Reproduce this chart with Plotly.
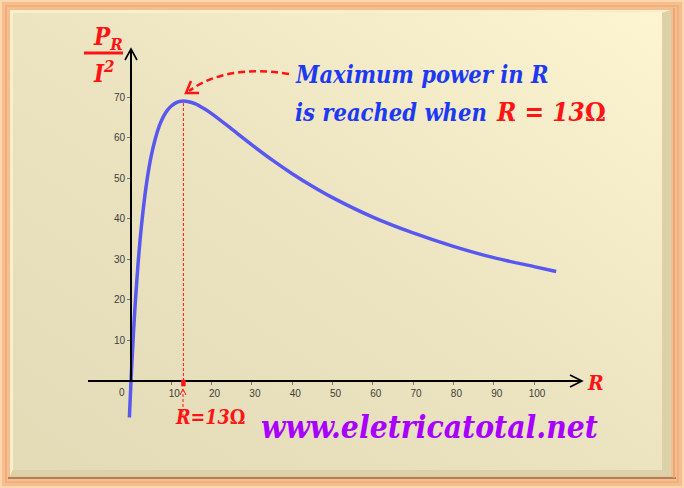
import base64
import plotly.graph_objects as go

# ---------------- data ----------------
R_VALUES = [-0.4, 0, 0.5, 1, 2, 3, 4, 5, 6, 7, 8, 9, 10, 11, 12, 13, 14, 16, 18, 20, 25, 30,
            35, 40, 45, 50, 60, 70, 80, 90, 100, 105.5]
P_VALUES = [-9.0, 0.0, 9.8, 18.3, 31.9, 42.0, 49.7, 55.4, 59.6, 62.8, 65.1, 66.7, 67.8, 68.5, 68.9,
            69.0, 68.9, 68.3, 67.2, 65.9, 62.1, 58.2, 54.5, 51.1, 48.0, 45.2, 40.4, 36.5, 33.2,
            30.4, 28.2, 27.0]
X_TICKS = [10, 20, 30, 40, 50, 60, 70, 80, 90, 100]
Y_TICKS = [10, 20, 30, 40, 50, 60, 70]
R_MAX = 13
P_MAX = 69.0

# ---------------- geometry helpers ----------------
W, H = 684, 488
X0PX, PXU = 131.0, 4.03      # pixel of R=0, pixels per unit R
Y0PX, PYU = 381.0, 4.057     # pixel of P=0, pixels per unit P


def px2x(p):
    return (p - X0PX) / PXU


def py2y(q):
    return (Y0PX - q) / PYU


def fx(p):
    return p / W


def fy(q):
    return 1 - q / H


def pt(p, q):
    return f"{fx(p):.5f},{fy(q):.5f}"


RED = "#ff1414"
BLUE = "#1d3af2"
PURPLE = "#a800ff"
SERIF = "DejaVu Serif Condensed, DejaVu Serif, serif"
OMEGA = '<span style="font-style:normal">Ω</span>'

# ---------------- background frame (svg image) ----------------
svg = f'''<svg xmlns="http://www.w3.org/2000/svg" width="{W}" height="{H}" viewBox="0 0 {W} {H}">
<defs>
<linearGradient id="g" x1="0" y1="1" x2="1" y2="0">
<stop offset="0" stop-color="#e3dbb6"/><stop offset="0.5" stop-color="#ece4c1"/><stop offset="1" stop-color="#fdf5d2"/>
</linearGradient>
</defs>
<rect width="{W}" height="{H}" fill="#f6be8f"/>
<rect x="1" y="1" width="{W-2}" height="{H-2}" fill="none" stroke="#fcd6ad" stroke-width="2"/>
<rect x="6" y="6" width="{W-12}" height="{H-12}" fill="none" stroke="#eeac78" stroke-width="1.5"/>
<polygon points="10,10 671,10 662,13 13,13 13,470 10,476" fill="#fbf0c9"/>
<polygon points="671,10 671,476 10,476 13,470 662,470 662,13" fill="#dcd2aa"/>
<rect x="13" y="13" width="649" height="457" fill="url(#g)"/>
<line x1="8" y1="478" x2="676" y2="478" stroke="#a98262" stroke-width="2"/>
<line x1="674" y1="8" x2="674" y2="478" stroke="#e2a272" stroke-width="1.5"/>
</svg>'''
bg_src = "data:image/svg+xml;base64," + base64.b64encode(svg.encode()).decode()

fig = go.Figure()

# curve
fig.add_trace(go.Scatter(
    x=R_VALUES, y=P_VALUES, mode="lines",
    line=dict(color="#5858f0", width=3.5, shape="spline", smoothing=0.8),
    hoverinfo="skip", showlegend=False, xaxis="x", yaxis="y"))

# invisible trace to create the visible-axes subplot
fig.add_trace(go.Scatter(
    x=[0], y=[0], mode="markers", marker=dict(opacity=0),
    hoverinfo="skip", showlegend=False, xaxis="x2", yaxis="y2"))

tickfont = dict(family="Liberation Sans, Arial, sans-serif", size=10, color="#3c3c3c")

fig.update_layout(
    width=W, height=H,
    margin=dict(l=0, r=0, t=0, b=0),
    paper_bgcolor="rgba(0,0,0,0)",
    plot_bgcolor="rgba(0,0,0,0)",
    showlegend=False,
    xaxis=dict(domain=[0, 1], range=[px2x(0), px2x(W)], visible=False, fixedrange=True),
    yaxis=dict(domain=[0, 1], range=[py2y(H), py2y(0)], visible=False, fixedrange=True),
    xaxis2=dict(domain=[fx(88), fx(581)], range=[px2x(88), px2x(581)],
                anchor="free", position=fy(Y0PX),
                showline=True, linecolor="black", linewidth=2,
                ticks="outside", ticklen=3, tickcolor="#777", tickwidth=1,
                tickvals=X_TICKS, tickfont=tickfont, ticklabelshift=3,
                showgrid=False, zeroline=False, fixedrange=True),
    yaxis2=dict(domain=[fy(Y0PX), fy(50)], range=[0, py2y(50)],
                anchor="free", position=fx(X0PX),
                showline=True, linecolor="black", linewidth=2,
                ticks="outside", ticklen=3, tickcolor="#777", tickwidth=1,
                tickvals=Y_TICKS, tickfont=tickfont,
                showgrid=False, zeroline=False, fixedrange=True),
    images=[dict(source=bg_src, xref="paper", yref="paper", x=0, y=1,
                 sizex=1, sizey=1, xanchor="left", yanchor="top",
                 sizing="stretch", layer="below")],
)

shapes = []
# axis arrowheads (open chevrons)
shapes.append(dict(type="path", xref="paper", yref="paper",
                   path=f"M{pt(125, 60)} L{pt(X0PX, 49)} L{pt(137, 60)}",
                   line=dict(color="black", width=1.6)))
shapes.append(dict(type="path", xref="paper", yref="paper",
                   path=f"M{pt(570, 375)} L{pt(582, Y0PX)} L{pt(570, 387)}",
                   line=dict(color="black", width=1.6)))
# dotted line at the maximum
shapes.append(dict(type="line", xref="x", yref="y", x0=R_MAX, x1=R_MAX, y0=0, y1=P_MAX,
                   line=dict(color=RED, width=1, dash="3px,2px")))
# red marker on the R axis
shapes.append(dict(type="rect", xref="x", yref="y", x0=R_MAX - 0.55, x1=R_MAX + 0.55,
                   y0=-1.3, y1=0.3, fillcolor=RED, line=dict(width=0)))
# small dashed arrow under the axis
shapes.append(dict(type="line", xref="paper", yref="paper",
                   x0=fx(183), x1=fx(183), y0=fy(417), y1=fy(391),
                   line=dict(color=RED, width=1, dash="3px,2px")))
shapes.append(dict(type="path", xref="paper", yref="paper",
                   path=f"M{pt(180, 395)} L{pt(183, 389)} L{pt(186, 395)}",
                   line=dict(color=RED, width=1)))
# curved dashed arrow to the peak
shapes.append(dict(type="path", xref="paper", yref="paper",
                   path=f"M{pt(289, 74)} Q{pt(226, 64)} {pt(189, 91)}",
                   line=dict(color=RED, width=2.5, dash="7px,4px")))
shapes.append(dict(type="path", xref="paper", yref="paper",
                   path=f"M{pt(191, 81)} L{pt(186, 93)} L{pt(199, 93)}",
                   line=dict(color=RED, width=2.5)))
# fraction bar in the y label
shapes.append(dict(type="line", xref="paper", yref="paper",
                   x0=fx(84), x1=fx(123), y0=fy(53), y1=fy(53),
                   line=dict(color=RED, width=3)))
fig.update_layout(shapes=shapes)

ann = []


def text(s, p, q, size, color, xanchor="left", family=SERIF):
    ann.append(dict(text=s, x=fx(p), y=fy(q), xref="paper", yref="paper",
                    xanchor=xanchor, yanchor="middle", showarrow=False,
                    font=dict(family=family, size=size, color=color,
                              weight="bold", style="italic")))


text("Maximum power in R", 293, 75, 23.5, BLUE)
text("is reached when", 293, 113, 23.5, BLUE)
text("R = 13" + OMEGA, 494, 112, 26, RED)
text("www.eletricatotal.net", 259, 426, 31.5, PURPLE)
text("R=13" + OMEGA, 173, 417, 19.5, RED)
text("R", 585, 382, 21, RED)
text("P<sub>R</sub>", 91, 38, 24, RED)
text("I<sup>2</sup>", 91, 72, 24, RED)

# '0' label at the origin
ann.append(dict(text="0", x=px2x(122), y=py2y(392), xref="x", yref="y",
                showarrow=False, font=tickfont))

fig.update_layout(annotations=ann)

fig.write_html("out.html", config={"displayModeBar": False, "staticPlot": True},
               post_script="document.body.style.margin='0';")
